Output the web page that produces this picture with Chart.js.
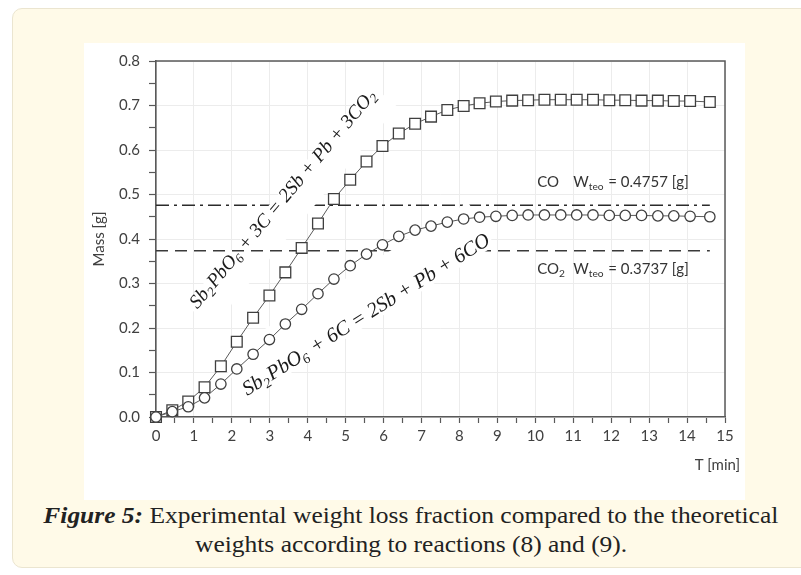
<!DOCTYPE html>
<html><head><meta charset="utf-8">
<script src="https://cdn.jsdelivr.net/npm/chart.js@4/dist/chart.umd.min.js"></script>
<style>
html,body{margin:0;padding:0;background:#fff;width:801px;height:575px;overflow:hidden;}
#card{position:absolute;left:12px;top:8px;width:830px;height:558px;background:#fffae8;border:1px solid #ebe5d0;border-radius:10px;}
#plot{position:absolute;left:84px;top:43px;width:661px;height:457px;background:#fff;}
#caption{position:absolute;left:0px;top:501px;width:822px;text-align:center;font-family:"Liberation Serif",serif;font-size:23px;line-height:29px;color:#222;}
#caption span{display:inline-block;white-space:nowrap;transform-origin:center;}
</style></head>
<body>
<div id="card"></div>
<div id="plot"><canvas id="c" width="661" height="457"></canvas></div>
<div id="caption"><span id="l1"><b><i>Figure 5:</i></b> Experimental weight loss fraction compared to the theoretical</span><br><span id="l2">weights according to reactions (8) and (9).</span></div>
<script>
// ---- data ----
const times = [0, 0.43, 0.85, 1.28, 1.71, 2.13, 2.56, 2.99, 3.41, 3.84, 4.27, 4.69, 5.12, 5.55, 5.97, 6.40, 6.83, 7.25, 7.68, 8.11, 8.53, 8.96, 9.39, 9.81, 10.24, 10.67, 11.09, 11.52, 11.95, 12.37, 12.80, 13.23, 13.65, 14.08, 14.60];
const massCO2Reaction = [0, 0.015, 0.035, 0.067, 0.114, 0.169, 0.223, 0.273, 0.325, 0.380, 0.435, 0.490, 0.533, 0.574, 0.609, 0.637, 0.659, 0.675, 0.690, 0.699, 0.705, 0.709, 0.711, 0.712, 0.713, 0.713, 0.713, 0.713, 0.712, 0.712, 0.711, 0.711, 0.710, 0.710, 0.708];
const massCOReaction = [0, 0.012, 0.023, 0.043, 0.074, 0.108, 0.141, 0.174, 0.209, 0.242, 0.277, 0.310, 0.340, 0.366, 0.387, 0.406, 0.420, 0.429, 0.438, 0.445, 0.449, 0.451, 0.453, 0.454, 0.454, 0.454, 0.454, 0.454, 0.453, 0.453, 0.453, 0.452, 0.452, 0.451, 0.450];
const theoCO = 0.4757;
const theoCO2 = 0.3737;
const refSpan = [0, 14.6];
const xRange = [0, 15];
const yRange = [0, 0.8];

const eq1 = [{t:'Sb'},{t:'2',sub:1},{t:'PbO'},{t:'6',sub:1},{t:' + 3C = 2Sb + Pb + 3CO'},{t:'2',sub:1}];
const eq2 = [{t:'Sb'},{t:'2',sub:1},{t:'PbO'},{t:'6',sub:1},{t:' + 6C = 2Sb + Pb + 6CO'}];

const AX = '#595959';
const TXT = '#404040';
const SANS = 'Lato, "Open Sans", sans-serif';
const SERIF = '"Liberation Serif", "DejaVu Serif", serif';

(function(){
  const l1 = document.getElementById('l1'), l2 = document.getElementById('l2');
  const k = 735 / l1.getBoundingClientRect().width;
  l1.style.transform = 'scaleX(' + k + ')';
  l2.style.transform = 'scaleX(' + k + ')';
})();

function richWidth(ctx, segs, size, fam, style){
  let w = 0;
  for (const s of segs){ ctx.font = style + ' ' + (s.sub ? size*0.68 : size) + 'px ' + fam; w += ctx.measureText(s.t).width + (s.sub ? size*0.06 : 0); }
  return w;
}
function drawRich(ctx, segs, x, y, size, fam, style){
  let cx = x;
  for (const s of segs){
    const sz = s.sub ? size*0.68 : size;
    ctx.font = style + ' ' + sz + 'px ' + fam;
    ctx.fillText(s.t, cx, s.sub ? y + size*0.28 : y);
    cx += ctx.measureText(s.t).width + (s.sub ? size*0.06 : 0);
  }
  return cx;
}
function rotatedEq(chart, segs, tc, vc, len, angDeg, above, below, padL, padR){
  const ctx = chart.ctx, xs = chart.scales.x, ys = chart.scales.y;
  const px = xs.getPixelForValue(tc), py = ys.getPixelForValue(vc);
  let size = 20;
  const w0 = richWidth(ctx, segs, size, SERIF, 'italic');
  size = size * len / w0;
  const w = richWidth(ctx, segs, size, SERIF, 'italic');
  ctx.save();
  ctx.beginPath(); ctx.rect(chart.chartArea.left+1, chart.chartArea.top+1, chart.chartArea.width-2, chart.chartArea.height-2); ctx.clip();
  ctx.translate(px, py);
  ctx.rotate(-angDeg*Math.PI/180);
  ctx.fillStyle = '#fff';
  ctx.fillRect(-w/2-padL, -above, w+padL+padR, above+below);
  ctx.fillStyle = '#1a1a1a';
  ctx.textBaseline = 'middle';
  ctx.textAlign = 'left';
  drawRich(ctx, segs, -w/2, 0, size, SERIF, 'italic');
  ctx.restore();
}

const isInt = v => Math.abs(v - Math.round(v)) < 1e-6;
const isTenth = v => Math.abs(v*10 - Math.round(v*10)) < 1e-6;

const overlay = {
  id:'overlay',
  afterDatasetDraw(chart, args){
    const id = chart.data.datasets[args.index].id;
    if (id === 'refCO') rotatedEq(chart, eq1, 3.36, 0.490, 280, 50, 7, 28, 4, 4);
    if (id === 'refCO2') rotatedEq(chart, eq2, 5.55, 0.229, 288, 32, 42, 9, 4, 2);
  },
  afterDraw(chart){
    const ctx = chart.ctx, a = chart.chartArea, xs = chart.scales.x, ys = chart.scales.y;
    ctx.save();
    ctx.strokeStyle = AX; ctx.lineWidth = 1.5;
    ctx.beginPath();
    ctx.moveTo(a.left, a.top); ctx.lineTo(a.right, a.top); ctx.lineTo(a.right, a.bottom);
    ctx.stroke();
    ctx.fillStyle = TXT;
    ctx.font = '15px ' + SANS;
    ctx.textAlign = 'right'; ctx.textBaseline = 'middle';
    ctx.fillText('T [min]', a.right + 15, a.bottom + 48);
    ctx.save();
    ctx.translate(a.left - 57, (a.top + a.bottom)/2);
    ctx.rotate(-Math.PI/2);
    ctx.textAlign = 'center';
    ctx.fillText('Mass [g]', 0, 0);
    ctx.restore();
    ctx.textAlign = 'left'; ctx.textBaseline = 'middle'; ctx.fillStyle = '#333';
    const fs = 15;
    const lab = (value, labelY, coSegs) => {
      const y = ys.getPixelForValue(labelY);
      drawRich(ctx, coSegs, xs.getPixelForValue(10.05), y, fs, SANS, '');
      drawRich(ctx, [{t:'W'},{t:'teo',sub:1},{t:' = ' + value.toFixed(4) + ' [g]'}], xs.getPixelForValue(11.0), y, fs, SANS, '');
    };
    lab(theoCO, theoCO + 0.052, [{t:'CO'}]);
    lab(theoCO2, theoCO2 - 0.042, [{t:'CO'},{t:'2',sub:1}]);
    ctx.restore();
  }
};

new Chart(document.getElementById('c'), {
  type:'line',
  data:{ datasets:[
    { id:'sq', data: times.map((t,i)=>({x:t, y:massCO2Reaction[i]})), order:1, clip:false,
      borderColor:'#5a5a5a', borderWidth:1, pointStyle:'rect', pointRadius:7.6,
      pointBackgroundColor:'#fff', pointBorderColor:'#3f3f3f', pointBorderWidth:1.3, tension:0 },
    { id:'ci', data: times.map((t,i)=>({x:t, y:massCOReaction[i]})), order:0, clip:false,
      borderColor:'#5a5a5a', borderWidth:1, pointStyle:'circle', pointRadius:5.2,
      pointBackgroundColor:'#fff', pointBorderColor:'#3f3f3f', pointBorderWidth:1.3, tension:0 },
    { id:'refCO', data: refSpan.map(t=>({x:t, y:theoCO})), order:10,
      borderColor:'#2b2b2b', borderWidth:1.6, borderDash:[13,5,3,5], pointRadius:0 },
    { id:'refCO2', data: refSpan.map(t=>({x:t, y:theoCO2})), order:9,
      borderColor:'#3a3a3a', borderWidth:1.6, borderDash:[12,7], pointRadius:0 }
  ]},
  options:{
    responsive:false, animation:false, events:[],
    layout:{padding:{left:0, top:10, right:20, bottom:0}},
    plugins:{legend:{display:false}, tooltip:{enabled:false}},
    scales:{
      x:{ type:'linear', min:xRange[0], max:xRange[1],
          ticks:{stepSize:0.5, autoSkip:false, maxRotation:0, padding:4, color:TXT, font:{family:SANS, size:15},
                 callback:v => isInt(v) ? String(Math.round(v)) : ''},
          grid:{color:c => isInt(c.tick.value) ? '#ececec' : 'rgba(0,0,0,0)', tickColor:AX, tickLength:6, tickWidth:1.2, lineWidth:1},
          border:{color:AX, width:1.6},
          afterFit:s => { s.height = 83; } },
      y:{ type:'linear', min:yRange[0], max:yRange[1],
          ticks:{stepSize:0.05, autoSkip:false, padding:9, color:TXT, font:{family:SANS, size:15},
                 callback:v => isTenth(v) ? (Math.round(v*10)/10).toFixed(1) : ''},
          grid:{color:c => isTenth(c.tick.value) ? '#ececec' : 'rgba(0,0,0,0)', tickColor:AX, tickLength:7, tickWidth:1.2, lineWidth:1},
          border:{color:AX, width:1.6},
          afterFit:s => { s.width = 72; } }
    }
  },
  plugins:[overlay]
});
</script>
</body></html>
